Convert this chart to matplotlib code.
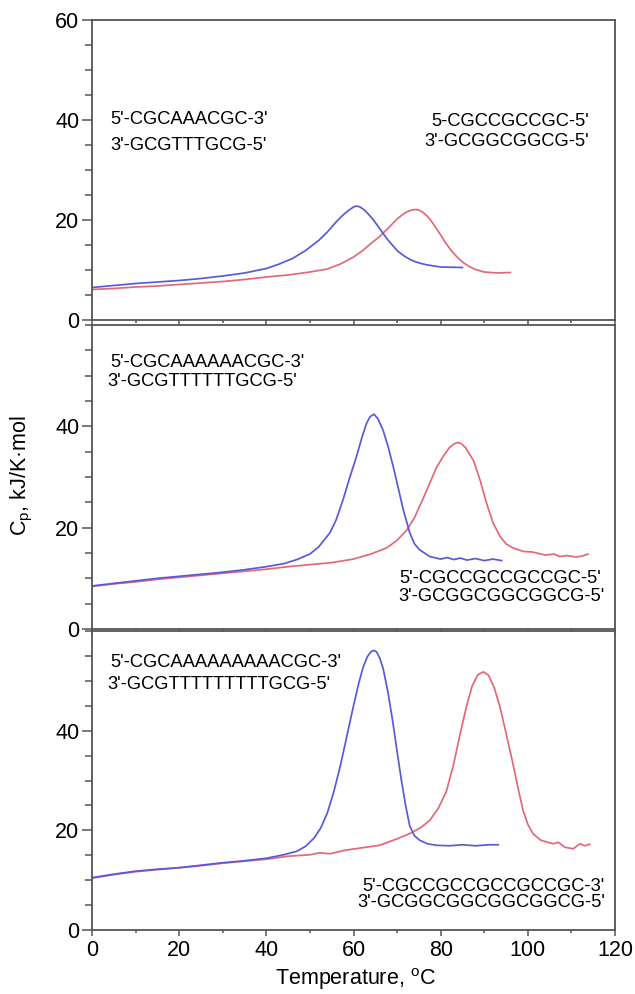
import numpy as np
import matplotlib.pyplot as plt
from matplotlib.ticker import MultipleLocator

plt.rcParams['font.family'] = ['Liberation Sans', 'DejaVu Sans']

# heat capacity curves (temperature in C, Cp in kJ/K.mol)
t1_blue = [0, 5, 10, 15, 20, 25, 30, 35, 40, 43, 46, 49, 52, 54, 56, 57, 58, 59, 60, 60.7,
           61.5, 62.5, 63.5, 64.5, 65.5, 66.8, 68, 69, 70, 71, 72, 73, 74, 75.5, 77, 80, 85]
cp1_blue = [6.5, 6.9, 7.3, 7.6, 7.9, 8.3, 8.8, 9.4, 10.3, 11.2, 12.3, 13.9, 15.9, 17.6,
            19.6, 20.5, 21.3, 22.0, 22.6, 22.8, 22.6, 22.0, 21.1, 20.1, 18.9, 17.3, 15.9,
            14.9, 13.9, 13.2, 12.6, 12.1, 11.7, 11.3, 11.0, 10.6, 10.5]
t1_red = [0, 5, 10, 15, 20, 25, 30, 35, 40, 45, 50, 54, 57, 60, 62, 64, 66, 68, 70, 71,
          72, 73, 74.1, 75, 76, 77, 78, 79, 80, 81, 82, 83, 84, 85, 86, 87, 88, 90, 93, 96]
cp1_red = [6.1, 6.3, 6.6, 6.8, 7.1, 7.4, 7.7, 8.1, 8.6, 9.0, 9.6, 10.2, 11.2, 12.6, 13.8,
           15.3, 16.7, 18.4, 20.2, 20.9, 21.5, 21.9, 22.1, 22.0, 21.5, 20.7, 19.6, 18.3,
           17.0, 15.6, 14.4, 13.3, 12.4, 11.6, 11.0, 10.5, 10.1, 9.6, 9.4, 9.5]

t2_blue = [0, 5, 10, 15, 20, 25, 30, 35, 40, 44, 47, 50, 52, 54.6, 56, 57.6, 59, 60.7, 62,
           63, 63.8, 64.7, 65.6, 66.8, 68, 69.1, 70.3, 71.4, 72.9, 74, 75.2, 77.5, 80,
           81.5, 83, 84.5, 86, 88, 90, 92, 94]
cp2_blue = [8.5, 9.0, 9.5, 10.0, 10.4, 10.8, 11.2, 11.7, 12.3, 12.9, 13.7, 14.8, 16.2,
            19.0, 21.5, 25.5, 29.5, 34.1, 38.0, 40.6, 41.9, 42.4, 41.5, 39.2, 35.8, 32.1,
            27.7, 23.6, 19.0, 16.8, 15.6, 14.3, 13.8, 14.1, 13.7, 14.0, 13.6, 13.9, 13.5,
            13.8, 13.5]
t2_red = [0, 5, 10, 15, 20, 25, 30, 35, 40, 45, 50, 55, 60, 64, 67.6, 70, 72.3, 74, 76,
          77.5, 79, 80.6, 82, 83, 83.8, 84.7, 85.7, 87.5, 89, 90.5, 92, 93.6, 95, 96.6, 99,
          101, 102, 104, 106, 107.3, 109, 111, 112.5, 113.8]
cp2_red = [8.4, 8.9, 9.3, 9.8, 10.2, 10.6, 11.0, 11.4, 11.8, 12.3, 12.7, 13.1, 13.8, 14.8,
           16.0, 17.5, 19.6, 22.0, 25.8, 28.8, 31.8, 34.1, 35.8, 36.5, 36.8, 36.6, 35.8,
           33.3, 29.5, 24.9, 21.0, 18.3, 16.8, 16.0, 15.3, 15.2, 15.0, 14.6, 14.8, 14.3,
           14.5, 14.2, 14.4, 14.8]

t3_blue = [0, 5, 10, 15, 20, 25, 30, 35, 40, 44, 47, 49, 51, 52.5, 54, 55.5, 57, 58.5, 60,
           61.2, 62.2, 63.2, 64.1, 64.7, 65.3, 66, 66.8, 68, 69.1, 70, 71, 72, 72.9, 74,
           75.2, 77, 79, 82, 85, 88, 91, 93.2]
cp3_blue = [10.5, 11.2, 11.8, 12.2, 12.5, 13.0, 13.5, 13.9, 14.4, 15.1, 15.8, 16.8, 18.5,
            20.5, 23.5, 27.8, 33.0, 39.0, 45.0, 49.5, 52.7, 54.9, 55.9, 56.1, 55.8, 54.6,
            52.5, 47.3, 41.3, 35.8, 30.0, 24.8, 20.9, 18.9, 18.0, 17.3, 17.0, 16.9, 17.1,
            16.9, 17.1, 17.1]
t3_red = [0, 5, 10, 15, 20, 25, 30, 35, 40, 45, 50, 52.3, 54.6, 58, 62, 66, 70, 73.3, 75.5,
          77.5, 79.5, 81.3, 82.9, 84.5, 85.9, 87.2, 88.5, 89.8, 91, 92.3, 93.6, 95, 96.6,
          97.8, 98.9, 100, 101.2, 103, 105.8, 107, 108.5, 110.4, 112, 113, 114.2]
cp3_red = [10.4, 11.1, 11.7, 12.1, 12.5, 12.9, 13.4, 13.8, 14.2, 14.8, 15.1, 15.5, 15.3,
           16.0, 16.5, 17.0, 18.3, 19.5, 20.6, 22.0, 24.5, 27.8, 33.0, 39.5, 44.8, 48.9,
           51.2, 51.8, 51.1, 48.6, 44.8, 39.5, 33.3, 28.3, 24.0, 21.2, 19.3, 18.0, 17.3,
           17.6, 16.6, 16.3, 17.3, 16.9, 17.2]

seq_left = [("5'-CGCAAACGC-3'", "3'-GCGTTTGCG-5'"),
            ("5'-CGCAAAAAACGC-3'", "3'-GCGTTTTTTGCG-5'"),
            ("5'-CGCAAAAAAAAACGC-3'", "3'-GCGTTTTTTTTTGCG-5'")]
seq_right = [("5-CGCCGCCGC-5'", "3'-GCGGCGGCG-5'"),
             ("5'-CGCCGCCGCCGC-5'", "3'-GCGGCGGCGGCG-5'"),
             ("5'-CGCCGCCGCCGCCGC-3'", "3'-GCGGCGGCGGCGGCG-5'")]

blue = '#5a5ad6'
red = '#e06a78'
spine_col = '#555555'

fig = plt.figure(figsize=(6.35, 9.94), dpi=100)
W, H = 635, 994
left, right = 92, 615
boxes = [(20, 320), (325, 629), (631, 930)]
axes = []
for top, bot in boxes:
    ax = fig.add_axes([left / W, 1 - bot / H, (right - left) / W, (bot - top) / H])
    axes.append(ax)

curves = [(t1_blue, cp1_blue, t1_red, cp1_red),
          (t2_blue, cp2_blue, t2_red, cp2_red),
          (t3_blue, cp3_blue, t3_red, cp3_red)]

for i, ax in enumerate(axes):
    tb, cb, tr, cr = curves[i]
    ax.plot(tr, cr, color=red, lw=1.25)
    ax.plot(tb, cb, color=blue, lw=1.25)
    ax.set_xlim(0, 120)
    ax.set_ylim(0, 60)
    ax.xaxis.set_major_locator(MultipleLocator(20))
    ax.xaxis.set_minor_locator(MultipleLocator(10))
    ax.yaxis.set_minor_locator(MultipleLocator(5))
    if i == 0:
        ax.set_yticks([0, 20, 40, 60])
    else:
        ax.set_yticks([0, 20, 40])
    ax.tick_params(axis='y', which='major', direction='out', length=7, width=1.1,
                   color=spine_col, labelsize=15.5, pad=2)
    ax.tick_params(axis='y', which='minor', direction='out', length=5, width=1.1,
                   color=spine_col)
    ax.tick_params(axis='x', which='major', direction='out', length=4, width=1.1,
                   color=spine_col, labelsize=15.5, pad=3.5)
    ax.tick_params(axis='x', which='minor', direction='out', length=2.5, width=1.1,
                   color=spine_col)
    if i < 2:
        ax.tick_params(axis='x', labelbottom=False)
    for s in ax.spines.values():
        s.set_color(spine_col)
        s.set_linewidth(1.3)

# duplex sequence labels
fs = 13.2
axes[0].text(4.1, 40, seq_left[0][0], fontsize=fs, va='center')
axes[0].text(4.1, 35, seq_left[0][1], fontsize=fs, va='center')
axes[0].text(114, 39.7, seq_right[0][0], fontsize=fs, va='center', ha='right')
axes[0].text(114, 35.7, seq_right[0][1], fontsize=fs, va='center', ha='right')

axes[1].text(4.1, 52.6, seq_left[1][0], fontsize=fs, va='center')
axes[1].text(3.6, 48.9, seq_left[1][1], fontsize=fs, va='center')
axes[1].text(70.6, 10.0, seq_right[1][0], fontsize=fs, va='center')
axes[1].text(70.4, 6.4, seq_right[1][1], fontsize=fs, va='center')

axes[2].text(4.1, 53.7, seq_left[2][0], fontsize=fs, va='center')
axes[2].text(3.6, 49.3, seq_left[2][1], fontsize=fs, va='center')
axes[2].text(117.7, 8.8, seq_right[2][0], fontsize=fs, va='center', ha='right')
axes[2].text(117.7, 5.5, seq_right[2][1], fontsize=fs, va='center', ha='right')

fig.text(355 / W, 1 - 979 / H, 'Temperature, $\\mathregular{^{o}}$C', fontsize=15.5,
         ha='center', va='center')
fig.text(22 / W, 1 - 476 / H, 'C$\\mathregular{_p}$, kJ/K\u00b7mol', fontsize=15.5,
         rotation=90, ha='center', va='center')

plt.savefig('out.png', dpi=100)
